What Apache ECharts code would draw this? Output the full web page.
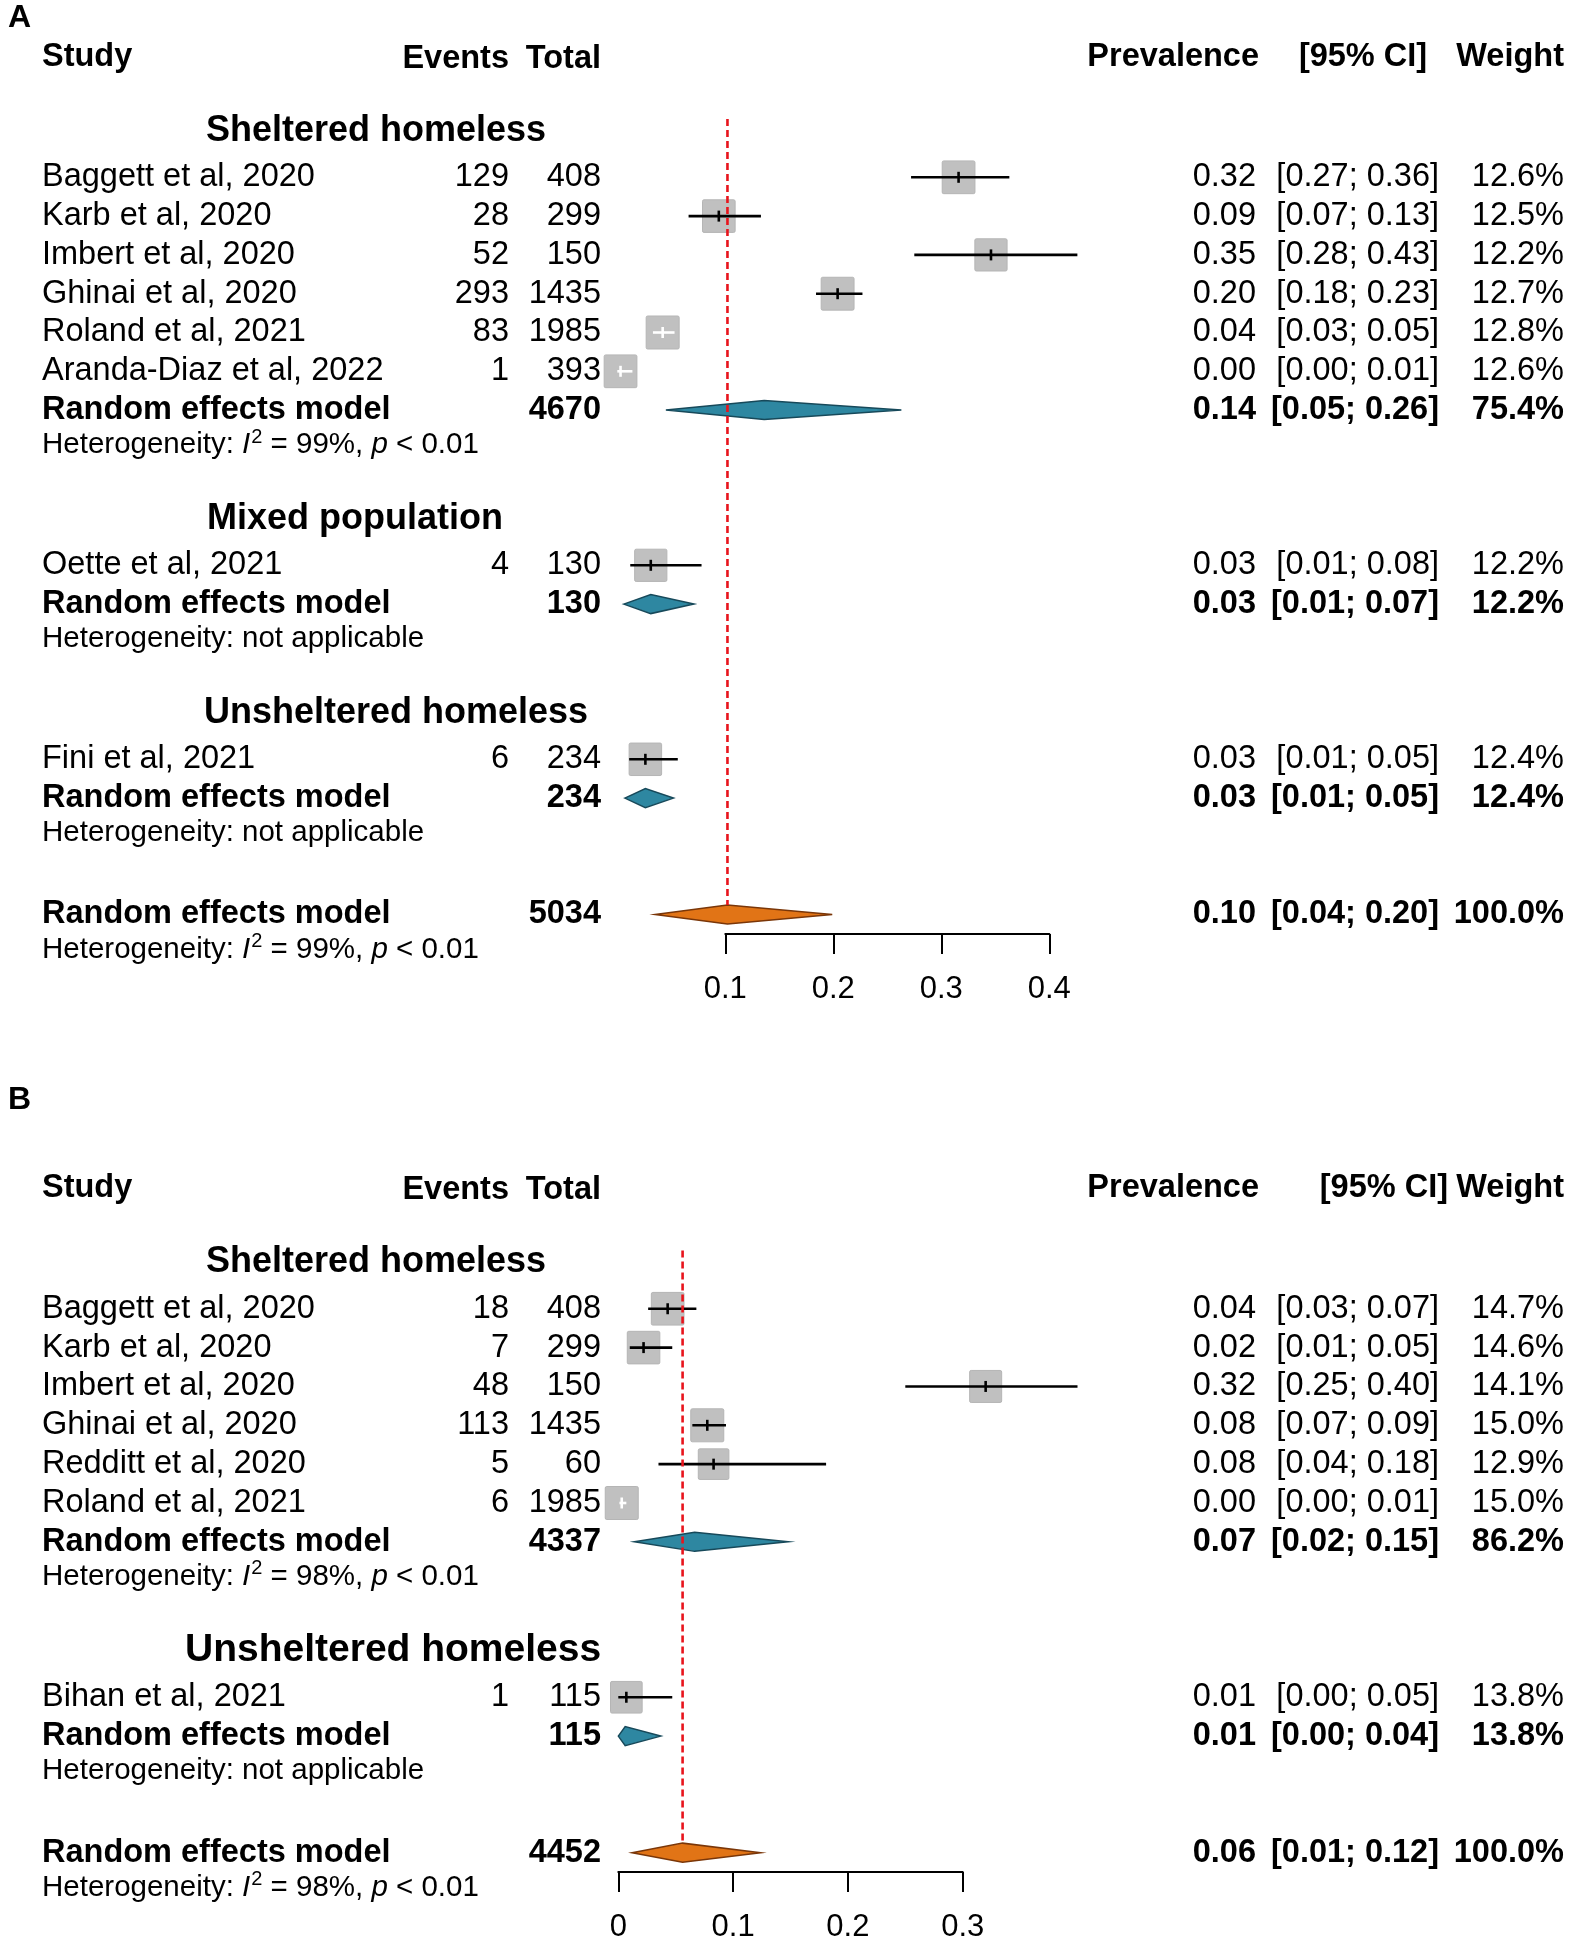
<!DOCTYPE html>
<html>
<head>
<meta charset="utf-8">
<script src="https://cdn.jsdelivr.net/npm/echarts@6/dist/echarts.min.js"></script>
<style>
html,body{margin:0;padding:0;background:#fff;}
#chart{width:1571px;height:1945px;}
</style>
</head>
<body>
<div id="chart"></div>
<script>
// ---------------- DATA: panel A ----------------
var groupsA = ['Sheltered homeless', 'Mixed population', 'Unsheltered homeless'];
var studyA = ['Baggett et al, 2020', 'Karb et al, 2020', 'Imbert et al, 2020', 'Ghinai et al, 2020',
  'Roland et al, 2021', 'Aranda-Diaz et al, 2022', 'Oette et al, 2021', 'Fini et al, 2021'];
var studyGroupA = [0, 0, 0, 0, 0, 0, 1, 2];
var eventsA = [129, 28, 52, 293, 83, 1, 4, 6];
var totalA = [408, 299, 150, 1435, 1985, 393, 130, 234];
var estA = [0.316, 0.094, 0.346, 0.204, 0.042, 0.003, 0.031, 0.026];
var loA = [0.272, 0.066, 0.275, 0.184, 0.033, 0.000, 0.012, 0.011];
var hiA = [0.363, 0.133, 0.426, 0.227, 0.053, 0.014, 0.078, 0.056];
var prevTxtA = ['0.32', '0.09', '0.35', '0.20', '0.04', '0.00', '0.03', '0.03'];
var ciTxtA = ['[0.27; 0.36]', '[0.07; 0.13]', '[0.28; 0.43]', '[0.18; 0.23]', '[0.03; 0.05]', '[0.00; 0.01]', '[0.01; 0.08]', '[0.01; 0.05]'];
var weightA = [12.6, 12.5, 12.2, 12.7, 12.8, 12.6, 12.2, 12.4];
var subTotalA = [4670, 130, 234];
var subEstA = [0.136, 0.031, 0.026];
var subLoA = [0.045, 0.006, 0.007];
var subHiA = [0.263, 0.071, 0.052];
var subPrevTxtA = ['0.14', '0.03', '0.03'];
var subCiTxtA = ['[0.05; 0.26]', '[0.01; 0.07]', '[0.01; 0.05]'];
var subWeightA = [75.4, 12.2, 12.4];
var subI2A = ['99%', null, null];
var overallA = {total: 5034, est: 0.102, lo: 0.035, hi: 0.199, prev: '0.10', ci: '[0.04; 0.20]', weight: 100.0, i2: '99%'};
var ticksA = ['0.1', '0.2', '0.3', '0.4'];

// ---------------- DATA: panel B ----------------
var groupsB = ['Sheltered homeless', 'Unsheltered homeless'];
var studyB = ['Baggett et al, 2020', 'Karb et al, 2020', 'Imbert et al, 2020', 'Ghinai et al, 2020',
  'Redditt et al, 2020', 'Roland et al, 2021', 'Bihan et al, 2021'];
var studyGroupB = [0, 0, 0, 0, 0, 0, 1];
var eventsB = [18, 7, 48, 113, 5, 6, 1];
var totalB = [408, 299, 150, 1435, 60, 1985, 115];
var estB = [0.043, 0.022, 0.320, 0.0775, 0.083, 0.003, 0.007];
var loB = [0.026, 0.010, 0.250, 0.0645, 0.035, 0.001, 0.000];
var hiB = [0.068, 0.047, 0.400, 0.0938, 0.181, 0.007, 0.047];
var prevTxtB = ['0.04', '0.02', '0.32', '0.08', '0.08', '0.00', '0.01'];
var ciTxtB = ['[0.03; 0.07]', '[0.01; 0.05]', '[0.25; 0.40]', '[0.07; 0.09]', '[0.04; 0.18]', '[0.00; 0.01]', '[0.00; 0.05]'];
var weightB = [14.7, 14.6, 14.1, 15.0, 12.9, 15.0, 13.8];
var subTotalB = [4337, 115];
var subEstB = [0.0665, 0.006];
var subLoB = [0.014, 0.000];
var subHiB = [0.148, 0.037];
var subPrevTxtB = ['0.07', '0.01'];
var subCiTxtB = ['[0.02; 0.15]', '[0.00; 0.04]'];
var subWeightB = [86.2, 13.8];
var subI2B = ['98%', null];
var overallB = {total: 4452, est: 0.056, lo: 0.012, hi: 0.124, prev: '0.06', ci: '[0.01; 0.12]', weight: 100.0, i2: '98%'};
var ticksB = ['0', '0.1', '0.2', '0.3'];

// ---------------- LAYOUT ----------------
var FONT = '"Liberation Sans", Arial, Helvetica, sans-serif';
var BOX = 33;
var COL = {name: 42, events: 509, total: 601, prev: 1256, ci: 1439, weight: 1564};
var TXT = 32.5, BTXT = 32.5, HET = 29.5, HEAD = 32.5;

function hetRich(i2) {
  if (!i2) return {text: 'Heterogeneity: not applicable'};
  return {text: 'Heterogeneity: {it|I}{sup|2} = ' + i2 + ', {it|p} < 0.01'};
}

function buildPanel(P) {
  var rows = [], markers = [], diamonds = [];
  var r = 0;
  P.groups.forEach(function (g, gi) {
    rows.push({row: r - 0.2, x: P.groupX[gi], align: 'left', text: g, bold: true, size: P.groupSize[gi]});
    var idx = [];
    P.studyGroup.forEach(function (sg, i) { if (sg === gi) idx.push(i); });
    idx.forEach(function (i) {
      r += 1;
      rows.push({row: r, x: COL.name, align: 'left', text: P.study[i], size: TXT});
      rows.push({row: r, x: COL.events, align: 'right', text: String(P.events[i]), size: TXT});
      rows.push({row: r, x: COL.total, align: 'right', text: String(P.total[i]), size: TXT});
      rows.push({row: r, x: COL.prev, align: 'right', text: P.prevTxt[i], size: TXT});
      rows.push({row: r, x: COL.ci, align: 'right', text: P.ciTxt[i], size: TXT});
      rows.push({row: r, x: COL.weight, align: 'right', text: P.weight[i].toFixed(1) + '%', size: TXT});
      markers.push([P.est[i], r, P.lo[i], P.hi[i], P.weight[i]]);
    });
    r += 1;
    rows.push({row: r, x: COL.name, align: 'left', text: 'Random effects model', bold: true, size: BTXT});
    rows.push({row: r, x: COL.total, align: 'right', text: String(P.subTotal[gi]), bold: true, size: BTXT});
    rows.push({row: r, x: COL.prev, align: 'right', text: P.subPrevTxt[gi], bold: true, size: BTXT});
    rows.push({row: r, x: COL.ci, align: 'right', text: P.subCiTxt[gi], bold: true, size: BTXT});
    rows.push({row: r, x: COL.weight, align: 'right', text: P.subWeight[gi].toFixed(1) + '%', bold: true, size: BTXT});
    diamonds.push([P.subEst[gi], r, P.subLo[gi], P.subHi[gi], 0]);
    r += 1;
    var h = hetRich(P.subI2[gi]);
    rows.push({row: r - 0.1, x: COL.name, align: 'left', text: h.text, size: HET, het: true});
    r += 2;
  });
  var O = P.overall;
  rows.push({row: r, x: COL.name, align: 'left', text: 'Random effects model', bold: true, size: BTXT});
  rows.push({row: r, x: COL.total, align: 'right', text: String(O.total), bold: true, size: BTXT});
  rows.push({row: r, x: COL.prev, align: 'right', text: O.prev, bold: true, size: BTXT});
  rows.push({row: r, x: COL.ci, align: 'right', text: O.ci, bold: true, size: BTXT});
  rows.push({row: r, x: COL.weight, align: 'right', text: O.weight.toFixed(1) + '%', bold: true, size: BTXT});
  diamonds.push([O.est, r, O.lo, O.hi, 1]);
  var overallRow = r;
  rows.push({row: r + 1 - 0.1, x: COL.name, align: 'left', text: hetRich(O.i2).text, size: HET, het: true});
  // header
  var hr = -2.1;
  rows.push({row: hr, x: COL.name, align: 'left', text: 'Study', bold: true, size: HEAD});
  rows.push({row: hr + 0.05, x: COL.events, align: 'right', text: 'Events', bold: true, size: HEAD});
  rows.push({row: hr + 0.05, x: COL.total, align: 'right', text: 'Total', bold: true, size: HEAD});
  rows.push({row: hr, x: 1259, align: 'right', text: 'Prevalence', bold: true, size: HEAD});
  rows.push({row: hr, x: P.ciHeadX, align: P.ciHeadAlign, text: '[95% CI]', bold: true, size: HEAD});
  rows.push({row: hr, x: COL.weight, align: 'right', text: 'Weight', bold: true, size: HEAD});
  var wmax = Math.max.apply(null, P.weight);
  return {rows: rows, markers: markers, diamonds: diamonds, ref: [[O.est, -0.5, overallRow]], wmax: wmax, maxRow: overallRow + 0.5};
}

var A = buildPanel({
  groups: groupsA, groupX: [206, 207, 204], groupSize: [36, 36, 36],
  study: studyA, studyGroup: studyGroupA, events: eventsA, total: totalA,
  est: estA, lo: loA, hi: hiA, prevTxt: prevTxtA, ciTxt: ciTxtA, weight: weightA,
  subTotal: subTotalA, subEst: subEstA, subLo: subLoA, subHi: subHiA,
  subPrevTxt: subPrevTxtA, subCiTxt: subCiTxtA, subWeight: subWeightA, subI2: subI2A,
  overall: overallA, ciHeadX: 1363, ciHeadAlign: 'center'
});
var B = buildPanel({
  groups: groupsB, groupX: [206, 185], groupSize: [36, 39],
  study: studyB, studyGroup: studyGroupB, events: eventsB, total: totalB,
  est: estB, lo: loB, hi: hiB, prevTxt: prevTxtB, ciTxt: ciTxtB, weight: weightB,
  subTotal: subTotalB, subEst: subEstB, subLo: subLoB, subHi: subHiB,
  subPrevTxt: subPrevTxtB, subCiTxt: subCiTxtB, subWeight: subWeightB, subI2: subI2B,
  overall: overallB, ciHeadX: 1448, ciHeadAlign: 'right'
});

var RICH = {
  it: {fontStyle: 'italic', fontSize: HET, fontFamily: FONT, fill: '#000'},
  sup: {fontSize: 20, fontFamily: FONT, fill: '#000', padding: [0, 0, 16, 1]}
};

function textRender(rows) {
  return function (params, api) {
    var d = rows[params.dataIndex];
    var y = api.coord([0, d.row])[1];
    var st = {
      text: d.text, fill: '#000', fontSize: d.size, fontFamily: FONT,
      fontWeight: d.bold ? 'bold' : 'normal', align: d.align, verticalAlign: 'middle'
    };
    if (d.het) st.rich = RICH;
    return {type: 'text', x: d.x, y: y, style: st};
  };
}

function markerRender(wmax) {
  return function (params, api) {
    var est = api.value(0), row = api.value(1), lo = api.value(2), hi = api.value(3), w = api.value(4);
    var c = api.coord([est, row]), l = api.coord([lo, row]), h = api.coord([hi, row]);
    var s = BOX * Math.sqrt(w / wmax);
    var inside = l[0] >= c[0] - s / 2 && h[0] <= c[0] + s / 2;
    var col = inside ? '#ffffff' : '#000000';
    return {
      type: 'group', children: [
        {type: 'rect', shape: {x: c[0] - s / 2, y: c[1] - s / 2, width: s, height: s, r: 1.5},
          style: {fill: '#c0c0c0', stroke: '#b5b5b5', lineWidth: 1}},
        {type: 'line', shape: {x1: l[0], y1: c[1], x2: h[0], y2: c[1]}, style: {stroke: col, lineWidth: 2.6}},
        {type: 'line', shape: {x1: c[0], y1: c[1] - 5.5, x2: c[0], y2: c[1] + 5.5}, style: {stroke: col, lineWidth: 2.6}}
      ]
    };
  };
}

function diamondRender(params, api) {
  var est = api.value(0), row = api.value(1), lo = api.value(2), hi = api.value(3), kind = api.value(4);
  var c = api.coord([est, row]), l = api.coord([lo, row]), h = api.coord([hi, row]);
  var hh = api.size([0, 1])[1] * 0.245;
  return {
    type: 'polygon',
    shape: {points: [[l[0], c[1]], [c[0], c[1] - hh], [h[0], c[1]], [c[0], c[1] + hh]]},
    style: kind === 1 ? {fill: '#e17416', stroke: '#7a3608', lineWidth: 1.5}
                      : {fill: '#2e87a1', stroke: '#17495a', lineWidth: 1.5}
  };
}

function refRender(params, api) {
  var est = api.value(0), r0 = api.value(1), r1 = api.value(2);
  var top = api.coord([est, r0]);
  var bot = api.coord([est, r1]);
  var hh = api.size([0, 1])[1] * 0.245;
  return {
    type: 'line', z2: 10,
    shape: {x1: top[0], y1: top[1], x2: bot[0], y2: bot[1] - hh},
    style: {stroke: '#e8141c', lineWidth: 2.6, lineDash: [7, 4]}
  };
}

// row -> pixel geometry
var ROWH_A = 38.8, ROW0_A = 138.5;
var ROWH_B = 38.85, ROW0_B = 1269.9;

function xAxisCfg(gi, min, max, ticks) {
  return {
    gridIndex: gi, type: 'value', min: min, max: max, interval: 0.1, position: 'bottom',
    axisLine: {show: true, onZero: false, lineStyle: {color: '#000', width: 2}},
    axisTick: {show: true, length: 20, lineStyle: {color: '#000', width: 2}},
    axisLabel: {
      show: true, margin: 40, fontSize: 31, fontFamily: FONT, color: '#000',
      formatter: function (v, i) { return ticks[Math.round((v - min) / 0.1)]; }
    },
    splitLine: {show: false}
  };
}

var option = {
  animation: false,
  backgroundColor: '#fff',
  grid: [
    {left: 617.3 + 1080 * 0.1, width: 1080 * 0.3, top: ROW0_A - 2.5 * ROWH_A, height: (A.maxRow + 2.5) * ROWH_A},
    {left: 618.3, width: 1148 * 0.3, top: ROW0_B - 2.5 * ROWH_B, height: (B.maxRow + 2.5) * ROWH_B}
  ],
  xAxis: [xAxisCfg(0, 0.1, 0.4, ticksA), xAxisCfg(1, 0, 0.3, ticksB)],
  yAxis: [
    {gridIndex: 0, type: 'value', inverse: true, min: -2.5, max: A.maxRow, show: false},
    {gridIndex: 1, type: 'value', inverse: true, min: -2.5, max: B.maxRow, show: false}
  ],
  graphic: [
    {type: 'text', left: 8, top: 2, style: {text: 'A', fontSize: 32, fontWeight: 'bold', fontFamily: FONT, fill: '#000'}},
    {type: 'text', left: 8, top: 1084, style: {text: 'B', fontSize: 32, fontWeight: 'bold', fontFamily: FONT, fill: '#000'}}
  ],
  series: [
    {type: 'custom', xAxisIndex: 0, yAxisIndex: 0, clip: false, renderItem: textRender(A.rows),
      data: A.rows.map(function (d) { return [0, d.row]; }), silent: true},
    {type: 'custom', xAxisIndex: 0, yAxisIndex: 0, clip: false, renderItem: markerRender(A.wmax), data: A.markers, silent: true},
    {type: 'custom', xAxisIndex: 0, yAxisIndex: 0, clip: false, renderItem: diamondRender, data: A.diamonds, silent: true},
    {type: 'custom', xAxisIndex: 0, yAxisIndex: 0, clip: false, renderItem: refRender, data: A.ref, silent: true, z: 5},
    {type: 'custom', xAxisIndex: 1, yAxisIndex: 1, clip: false, renderItem: textRender(B.rows),
      data: B.rows.map(function (d) { return [0, d.row]; }), silent: true},
    {type: 'custom', xAxisIndex: 1, yAxisIndex: 1, clip: false, renderItem: markerRender(B.wmax), data: B.markers, silent: true},
    {type: 'custom', xAxisIndex: 1, yAxisIndex: 1, clip: false, renderItem: diamondRender, data: B.diamonds, silent: true},
    {type: 'custom', xAxisIndex: 1, yAxisIndex: 1, clip: false, renderItem: refRender, data: B.ref, silent: true, z: 5}
  ]
};

var chart = echarts.init(document.getElementById('chart'), null, {renderer: 'canvas'});
chart.setOption(option);
</script>
</body>
</html>
